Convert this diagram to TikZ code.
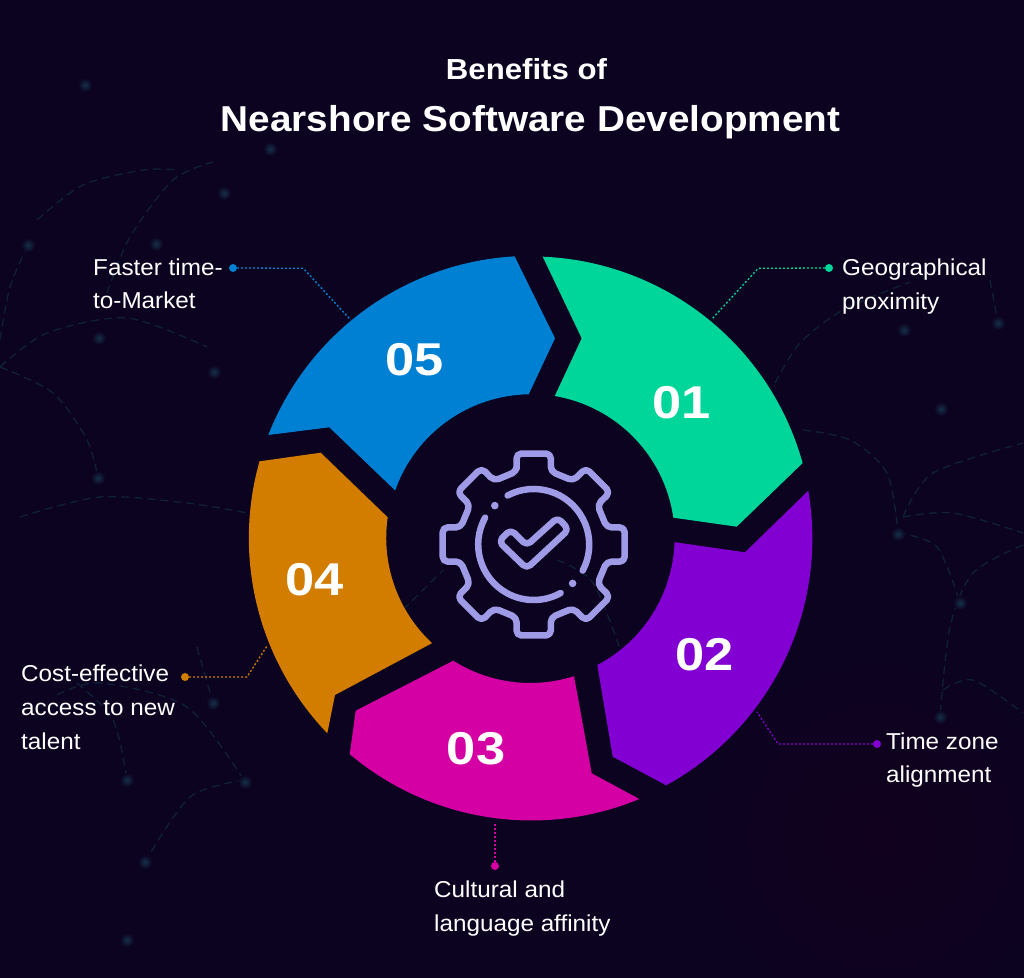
\documentclass[tikz,border=0pt]{standalone}
\usepackage{fontspec}
\setmainfont{Liberation Sans}
\newfontfamily\labfont[FakeStretch=1.055]{Liberation Sans}
\newfontfamily\headfont[FakeStretch=1.075]{Liberation Sans}
\newfontfamily\numfont[FakeStretch=1.14]{Liberation Sans}
\definecolor{bgdark}{HTML}{0C0320}
\definecolor{bgtint}{HTML}{11011F}
\definecolor{faint}{HTML}{0F2136}
\definecolor{glow}{HTML}{15304A}
\definecolor{geargrey}{HTML}{A09BE6}
\definecolor{segA}{HTML}{00D69A}
\definecolor{segB}{HTML}{8200D2}
\definecolor{segC}{HTML}{D400A4}
\definecolor{segD}{HTML}{D27C00}
\definecolor{segE}{HTML}{0080D2}
\tikzset{
  segnum/.style={text=white, font=\numfont\fontsize{46}{46}\bfseries\selectfont, anchor=base, inner sep=0pt},
  lab/.style={text=white, font=\labfont\fontsize{23}{33.6}\selectfont, align=left, anchor=base west, inner sep=0pt},
  leader/.style={line width=1.3pt, dash pattern=on 2pt off 2pt},
  pin/.style={circle, fill=#1, inner sep=0pt, minimum size=8pt},
  gearline/.style={draw=geargrey, line width=6.5pt, line cap=round, line join=round}
}
\begin{document}
\begin{tikzpicture}[x=1pt,y=1pt]
  \tikzstyle{backline}=[draw=faint, line width=1.3pt, dash pattern=on 8pt off 5pt]

\useasboundingbox (0,0) rectangle (1024,977);
\fill[bgdark] (-1,-1) rectangle (1025,978);
\begin{scope}
\clip (0,0) rectangle (1024,977);
\shade[inner color=bgtint, outer color=bgdark] (880,140) circle (190);
\end{scope}

% faint curves behind
\draw[backline] plot[smooth] coordinates {(37,757) (83,792) (143,807) (177,807)};
\draw[backline] plot[smooth] coordinates {(107,684) (130,740) (173,797) (213,815)};
\draw[backline] plot[smooth] coordinates {(0,610) (47,644) (127,659) (207,630)};
\draw[backline] plot[smooth] coordinates {(0,610) (53,584) (87,537) (98,499)};
\draw[backline] plot[smooth] coordinates {(20,460) (100,480) (187,474) (247,464)};
\draw[backline] plot[smooth] coordinates {(28,732) (10,690) (0,637)};
\draw[backline] plot[smooth] coordinates {(775,594) (800,634) (843,667) (910,695)};
\draw[backline] plot[smooth] coordinates {(803,547) (850,537) (887,504) (898,444)};
\draw[backline] plot[smooth] coordinates {(903,460) (933,504) (1023,534)};
\draw[backline] plot[smooth] coordinates {(903,460) (953,464) (1023,444)};
\draw[backline] plot[smooth] coordinates {(898,444) (937,430) (960,374)};
\draw[backline] plot[smooth] coordinates {(1023,432) (973,404) (950,350) (940,260)};
\draw[backline] plot[smooth] coordinates {(943,287) (973,297) (1023,264)};
\draw[backline] plot[smooth] coordinates {(990,697) (998,654)};
\draw[backline] plot[smooth] coordinates {(57,282) (100,294) (187,270) (245,195)};
\draw[backline] plot[smooth] coordinates {(197,330) (213,274)};
\draw[backline] plot[smooth] coordinates {(77,294) (113,257) (127,197)};
\draw[backline] plot[smooth] coordinates {(245,197) (190,180) (145,115)};
\draw[backline] plot[smooth] coordinates {(403,367) (443,407)};
\draw[backline] plot[smooth] coordinates {(557,417) (593,394) (623,320)};
\foreach \px/\py in {85/892,224/784,28/732,156/733,99/639,214/605,98/499,904/647,941/568,898/443,960/374,998/654,940/260,213/274,127/197,245/195,145/115,127/37,270/828}
  \shade[inner color=glow, outer color=bgdark] (\px,\py) circle (7);

% title
\node[anchor=base, text=white, inner sep=0pt, font=\headfont\fontsize{29}{29}\bfseries\selectfont] (titletop) at (526.5,897.7) {Benefits of};
\node[anchor=base, text=white, inner sep=0pt, font=\headfont\fontsize{36}{36}\bfseries\selectfont] (titlemain) at (530.5,845.3) {Nearshore Software Development};

% ring
\coordinate (ctr) at (531,439);
\fill[segA] (542.7,720.3) arc[start angle=87.6, end angle=15.5, radius=282] -- (736.7,450.3) -- (673.3,459.3) arc[start angle=8.1, end angle=80.4, radius=144] -- (581.7,638.7) -- cycle;
\fill[segB] (808.3,486.3) arc[start angle=9.7, end angle=-61.2, radius=282] -- (612.7,220.3) -- (597.3,312) arc[start angle=-62.4, end angle=-1.9, radius=144] -- (745,424.7) -- cycle;
\fill[segC] (639.3,178) arc[start angle=292.5, end angle=229.9, radius=282] -- (355.7,266.3) -- (453.3,316.3) arc[start angle=237.7, end angle=287.7, radius=144] -- (591.7,203.7) -- cycle;
\fill[segD] (327.3,243.7) arc[start angle=223.8, end angle=164.2, radius=282] -- (320.7,524.3) -- (387.7,459.7) arc[start angle=171.8, end angle=227, radius=144] -- (335,282) -- cycle;
\fill[segE] (268.3,542) arc[start angle=158.6, end angle=93.3, radius=282] -- (555,638.7) -- (528.7,582.7) arc[start angle=90.9, end angle=160.6, radius=144] -- (329.3,549.7) -- cycle;

\node[segnum] (n1) at (681.5,558) {01};
\node[segnum] (n2) at (704.5,306) {02};
\node[segnum] (n3) at (476,212.7) {03};
\node[segnum] (n4) at (315,381) {04};
\node[segnum] (n5) at (414.5,601.3) {05};

% gear
\begin{scope}[shift={(533.7,432.5)}]
  \draw[gearline, rounded corners=5pt] (103.1:75) \foreach \a in {0,-45,...,-315} { -- (\a+103.1:75) -- (\a+100.7:92.6) -- (\a+79.3:92.6) -- (\a+76.9:75) } -- cycle;
  \draw[gearline] (118:55.5) arc[start angle=118, end angle=-28, radius=55.5];
  \draw[gearline] (151:55.5) arc[start angle=151, end angle=299, radius=55.5];
  \fill[geargrey] (135:55) circle (3.8);
  \fill[geargrey] (-45:55) circle (3.8);
  \draw[gearline, rounded corners=5pt] (-7,-24) -- (-35,3) -- (-23,15) -- (-7,-1) -- (24,27) -- (35,15) -- cycle;
\end{scope}

% leaders
\node[pin=segA] (p1) at (829,709) {};
\node[pin=segB] (p2) at (877,233) {};
\node[pin=segC] (p3) at (495,111) {};
\node[pin=segD] (p4) at (185,300) {};
\node[pin=segE] (p5) at (233,709) {};
\coordinate (k1) at (758.3,708.7);
\coordinate (e1) at (711.7,657.7);
\coordinate (k2) at (778,233);
\coordinate (e2) at (757,265);
\coordinate (e3) at (495,153.7);
\coordinate (k4) at (247,300);
\coordinate (e4) at (267,331);
\coordinate (k5) at (303.3,708.7);
\coordinate (e5) at (350.7,657);
\draw[leader, segA] (p1) -- (k1) -- (e1);
\draw[leader, segB] (p2) -- (k2) -- (e2);
\draw[leader, segC] (p3) -- (e3);
\draw[leader, segD] (p4) -- (k4) -- (e4);
\draw[leader, segE] (p5) -- (k5) -- (e5);

\node[lab] (l1) at (842,667.7) {Geographical\\proximity};
\node[lab] (l2) at (886,194) {Time zone\\alignment};
\node[lab] (l3) at (434,46) {Cultural and\\language affinity};
\node[lab] (l4) at (21,228) {Cost-effective\\access to new\\talent};
\node[lab] (l5) at (93,668) {Faster time-\\to-Market};

\end{tikzpicture}
\end{document}
